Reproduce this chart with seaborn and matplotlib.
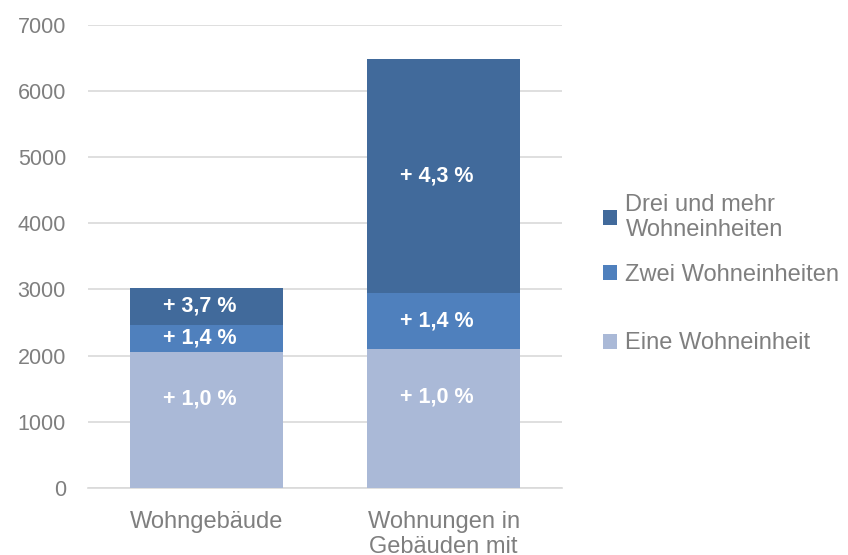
import matplotlib
matplotlib.use("Agg")
import pandas as pd
import seaborn as sns
from matplotlib import pyplot as plt
from matplotlib.patches import Patch
from matplotlib.ticker import FixedLocator

categories = ["Wohngebäude", "Wohnungen in\nGebäuden mit"]
eine = [2055, 2095]
zwei = [415, 855]
drei = [555, 3540]
labels_eine = ["+ 1,0 %", "+ 1,0 %"]
labels_zwei = ["+ 1,4 %", "+ 1,4 %"]
labels_drei = ["+ 3,7 %", "+ 4,3 %"]
series_names = ["Drei und mehr\nWohneinheiten", "Zwei Wohneinheiten", "Eine Wohneinheit"]
colors = ["#416a9b", "#4f80bd", "#aab9d7"]
text_gray = "#7f7f7f"
grid_gray = "#d9d9d9"

sns.set_style("white")
plt.rcParams["font.family"] = ["Liberation Sans", "DejaVu Sans"]

df = pd.DataFrame({"cat": categories, "eine": eine, "zwei": zwei, "drei": drei})
df["lvl2"] = df["eine"] + df["zwei"]
df["lvl3"] = df["lvl2"] + df["drei"]

fig = plt.figure(figsize=(8.48, 5.55), dpi=100)
ax = fig.add_axes([0.104, 0.121, 0.559, 0.834])

# stacked bars drawn back to front
for col, c in zip(["lvl3", "lvl2", "eine"], colors):
    sns.barplot(data=df, x="cat", y=col, color=c, width=0.645, ax=ax,
                saturation=1, errorbar=None, linewidth=0, zorder=3)

# segment labels (slightly left of centre, like the original)
lbl_kw = dict(ha="center", va="center", color="white", fontsize=15.5,
              fontweight="bold", zorder=4)
for i in range(len(categories)):
    x = i - 0.03
    ax.text(x, eine[i] * 0.655, labels_eine[i], **lbl_kw)
    ax.text(x, eine[i] + zwei[i] / 2, labels_zwei[i], **lbl_kw)
    ax.text(x, eine[i] + zwei[i] + drei[i] / 2, labels_drei[i], **lbl_kw)

ax.set_ylim(0, 7000)
ax.set_xlim(-0.5, 1.5)
ax.set_yticks(range(0, 7001, 1000))
ax.grid(axis="y", color=grid_gray, linewidth=1.2, zorder=0)
ax.set_axisbelow(True)
ax.set_xlabel("")
ax.set_ylabel("")

for s in ["top", "right", "left"]:
    ax.spines[s].set_visible(False)
ax.spines["bottom"].set_color(grid_gray)
ax.spines["bottom"].set_linewidth(1.2)

ax.tick_params(axis="y", length=0, pad=16, labelsize=15.5, labelcolor=text_gray)
ax.tick_params(axis="x", which="major", length=0, pad=17, labelsize=17,
               labelcolor=text_gray)
ax.xaxis.set_minor_locator(FixedLocator([-0.5, 0.5, 1.5]))
ax.tick_params(axis="x", which="minor", length=5, width=1.2, color=grid_gray,
               direction="out")
for lbl in ax.get_xticklabels():
    lbl.set_linespacing(1.15)

# legend entries placed one by one on the right
leg_y = [0.668, 0.541, 0.418]
for name, c, y in zip(series_names, colors, leg_y):
    leg = fig.legend(handles=[Patch(facecolor=c, edgecolor="none")], labels=[name],
                     loc="upper left", bbox_to_anchor=(0.700, y), frameon=False,
                     fontsize=17, labelcolor=text_gray, handlelength=0.6,
                     handleheight=0.6, handletextpad=0.35, borderaxespad=0)
    for t in leg.get_texts():
        t.set_linespacing(1.2)

fig.savefig("out.png", dpi=100)
